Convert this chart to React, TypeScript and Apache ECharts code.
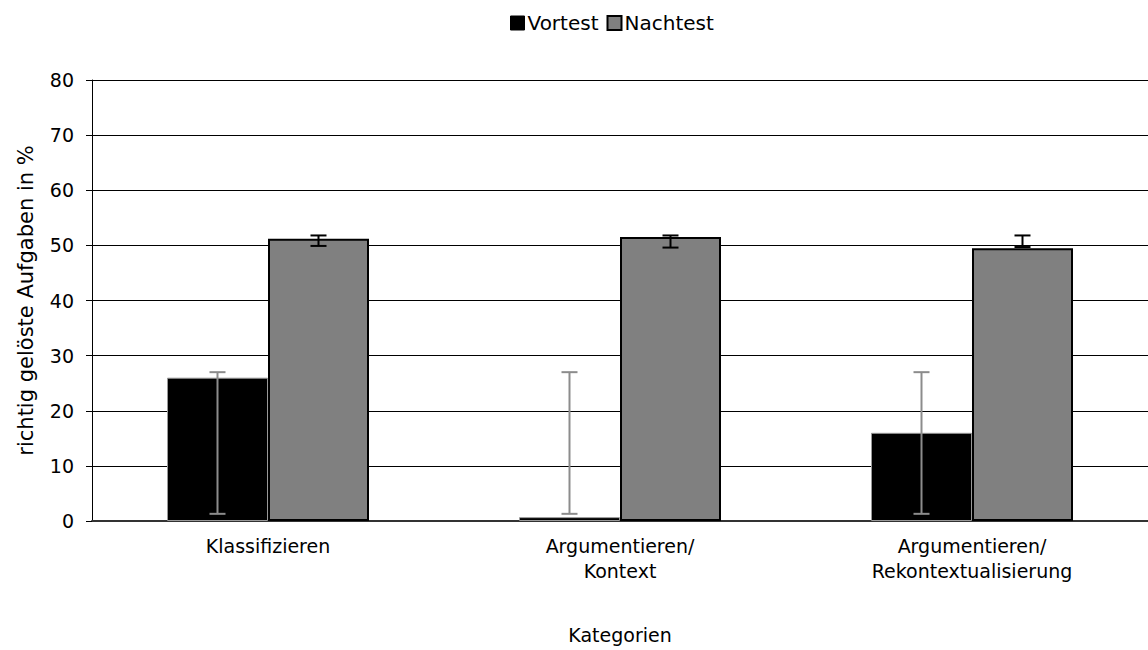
import React, { useEffect, useRef } from "react";
import * as echarts from "echarts";

const categories = ["Klassifizieren", "Argumentieren/\nKontext", "Argumentieren/\nRekontextualisierung"];
const vortest = [26.0, 0.7, 16.0];
const nachtest = [51.2, 51.5, 49.5];
const vortestErrLow = [1.3, 1.3, 1.3];
const vortestErrHigh = [27.0, 27.0, 27.0];
const nachtestErrLow = [49.9, 49.6, 49.7];
const nachtestErrHigh = [51.8, 51.8, 51.8];
const yTicks = [0, 10, 20, 30, 40, 50, 60, 70, 80];

const BAR_W = 101;

function errorSeries(name: string, low: number[], high: number[], offset: number, color: string) {
  return {
    type: "custom",
    name: name + "_err",
    silent: true,
    z: 10,
    data: low.map((l, i) => [i, l, high[i]]),
    renderItem: (params: any, api: any) => {
      const idx = api.value(0);
      const lo = api.coord([idx, api.value(1)]);
      const hi = api.coord([idx, api.value(2)]);
      const x = lo[0] + offset;
      const cap = 8;
      const style = { stroke: color, lineWidth: 2 };
      return {
        type: "group",
        children: [
          { type: "line", shape: { x1: x, y1: lo[1], x2: x, y2: hi[1] }, style },
          { type: "line", shape: { x1: x - cap, y1: lo[1], x2: x + cap, y2: lo[1] }, style },
          { type: "line", shape: { x1: x - cap, y1: hi[1], x2: x + cap, y2: hi[1] }, style },
        ],
      };
    },
  };
}

export default function App() {
  const ref = useRef<HTMLDivElement>(null);
  useEffect(() => {
    if (!ref.current) return;
    const chart = echarts.init(ref.current, null, { renderer: "svg" });
    chart.setOption({
      animation: false,
      backgroundColor: "#ffffff",
      legend: {
        top: 8,
        left: 505,
        itemWidth: 14,
        itemHeight: 14,
        itemGap: 8,
        textStyle: { fontFamily: "DejaVu Sans", fontSize: 20, color: "#000", padding: [0, 0, 0, -2] },
        data: [
          { name: "Vortest", icon: "rect", itemStyle: { color: "#000", borderColor: "#000", borderWidth: 1 } },
          { name: "Nachtest", icon: "rect", itemStyle: { color: "#808080", borderColor: "#000", borderWidth: 2 } },
        ],
      },
      grid: { left: 92, right: 0, top: 80, bottom: 129, containLabel: false, outerBoundsMode: "none" },
      xAxis: {
        type: "category",
        data: categories,
        name: "Kategorien",
        nameLocation: "middle",
        nameGap: 104,
        nameTextStyle: { fontFamily: "DejaVu Sans", fontSize: 19, color: "#000" },
        axisLine: { show: true, lineStyle: { color: "#333", width: 2 } },
        axisTick: { show: false },
        axisLabel: {
          interval: 0,
          margin: 12,
          fontFamily: "DejaVu Sans",
          fontSize: 19,
          lineHeight: 25,
          color: "#000",
        },
      },
      yAxis: {
        type: "value",
        min: 0,
        max: 80,
        interval: 10,
        name: "richtig gelöste Aufgaben in %",
        nameLocation: "middle",
        nameGap: 56,
        nameTextStyle: { fontFamily: "DejaVu Sans", fontSize: 21, color: "#000" },
        axisLine: { show: true, lineStyle: { color: "#000", width: 1 } },
        axisTick: { show: true, length: 6, lineStyle: { color: "#000" } },
        axisLabel: {
          margin: 18,
          fontFamily: "DejaVu Sans",
          fontSize: 19,
          color: "#000",
          formatter: (v: number) => (yTicks.includes(v) ? String(v) : ""),
        },
        splitLine: { show: true, lineStyle: { color: "#000", width: 1 } },
      },
      series: [
        {
          type: "bar",
          name: "Vortest",
          data: vortest,
          barWidth: BAR_W,
          barGap: "0%",
          itemStyle: { color: "#000", borderColor: "#999", borderWidth: 1 },
        },
        {
          type: "bar",
          name: "Nachtest",
          data: nachtest,
          barWidth: BAR_W,
          barGap: "0%",
          itemStyle: { color: "#808080", borderColor: "#000", borderWidth: 2 },
        },
        errorSeries("Vortest", vortestErrLow, vortestErrHigh, -BAR_W / 2, "#8c8c8c"),
        errorSeries("Nachtest", nachtestErrLow, nachtestErrHigh, BAR_W / 2, "#000"),
      ],
    });
    return () => chart.dispose();
  }, []);
  return <div ref={ref} style={{ position: "fixed", left: 0, top: 0, width: 1148, height: 650 }} />;
}
